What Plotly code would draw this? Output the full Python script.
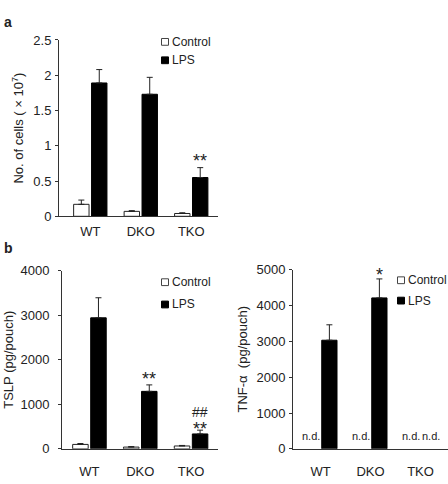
import plotly.graph_objects as go

# ---------------- data ----------------
genotypes = ["WT", "DKO", "TKO"]

cells_control = [0.17, 0.07, 0.04]
cells_control_err = [0.06, 0.01, 0.01]
cells_lps = [1.89, 1.73, 0.55]
cells_lps_err = [0.19, 0.24, 0.14]

tslp_control = [100, 40, 65]
tslp_control_err = [20, 10, 12]
tslp_lps = [2940, 1290, 335]
tslp_lps_err = [450, 145, 85]

tnf_control = [None, None, None]          # n.d.
tnf_lps = [3030, 4210, None]               # TKO n.d.
tnf_lps_err = [430, 530, 0]
tnf_nd_labels = [("WT", "Control"), ("DKO", "Control"), ("TKO", "Control"), ("TKO", "LPS")]

FONT = "Liberation Sans, Arial, sans-serif"
W, H = 448, 484

def px2x(p):
    return p / W

def px2y(p):
    return 1 - p / H

fig = go.Figure()

def add_pair(ctrl, ctrl_err, lps, lps_err, xa, ya):
    fig.add_trace(go.Bar(
        x=genotypes, y=ctrl, name="Control", xaxis=xa, yaxis=ya,
        marker=dict(color="white", line=dict(color="#222222", width=1)),
        error_y=dict(type="data", array=ctrl_err, arrayminus=[0] * 3, symmetric=False,
                     color="#222222", thickness=1, width=3) if ctrl_err else None,
        showlegend=False, offsetgroup="c"))
    fig.add_trace(go.Bar(
        x=genotypes, y=lps, name="LPS", xaxis=xa, yaxis=ya,
        marker=dict(color="black", line=dict(color="black", width=1)),
        error_y=dict(type="data", array=lps_err, arrayminus=[0] * 3, symmetric=False,
                     color="#222222", thickness=1, width=3),
        showlegend=False, offsetgroup="l"))

add_pair(cells_control, cells_control_err, cells_lps, cells_lps_err, "x", "y")
add_pair(tslp_control, tslp_control_err, tslp_lps, tslp_lps_err, "x2", "y2")
add_pair(tnf_control, None, tnf_lps, tnf_lps_err, "x3", "y3")

axis_line = dict(showline=True, linecolor="#333333", linewidth=1, showgrid=False,
                 zeroline=False)

xcommon = dict(axis_line, type="category", ticks="",
               tickfont=dict(family=FONT, size=13, color="#222222"))
ycommon = dict(axis_line, ticks="outside", ticklen=3, tickcolor="#333333",
               tickfont=dict(family=FONT, size=13, color="#222222"))

fig.update_layout(
    width=W, height=H, margin=dict(l=0, r=0, t=0, b=0),
    paper_bgcolor="white", plot_bgcolor="white",
    barmode="group", bargap=0.29, bargroupgap=0.14,
    font=dict(family=FONT, color="#222222"),
    xaxis=dict(xcommon, domain=[px2x(59), px2x(218)], range=[-0.62, 2.53], anchor="y",
               ticklabelstandoff=3),
    yaxis=dict(ycommon, domain=[px2y(216), px2y(34)], range=[0, 2.5], dtick=0.5, anchor="x",
               ticklabelstandoff=1,
               title=dict(text="No. of cells ( × 10<sup>7</sup>)", font=dict(size=13, family=FONT),
                          standoff=6)),
    xaxis2=dict(xcommon, domain=[px2x(62), px2x(218)], range=[-0.54, 2.53], anchor="y2",
                ticklabelstandoff=11),
    yaxis2=dict(ycommon, domain=[px2y(456), px2y(272)], range=[0, 4000], dtick=1000, anchor="x2",
                ticklabelstandoff=6,
                title=dict(text="TSLP (pg/pouch)", font=dict(size=13, family=FONT), standoff=3)),
    xaxis3=dict(xcommon, domain=[px2x(293), px2x(448)], range=[-0.55, 2.55], anchor="y3",
                ticklabelstandoff=11),
    yaxis3=dict(ycommon, domain=[px2y(456), px2y(271)], range=[0, 5000], dtick=1000, anchor="x3",
                ticklabelstandoff=1,
                title=dict(text="TNF-α  (pg/pouch)", font=dict(size=13, family=FONT), standoff=5)),
)

ann = []
# panel letters
ann.append(dict(text="<b>a</b>", x=px2x(2), y=px2y(15), xref="paper", yref="paper",
                xanchor="left", yanchor="middle", showarrow=False, font=dict(size=14, family=FONT)))
ann.append(dict(text="<b>b</b>", x=px2x(2), y=px2y(249), xref="paper", yref="paper",
                xanchor="left", yanchor="middle", showarrow=False, font=dict(size=14, family=FONT)))

LPS_OFF = 0.18
star_font = dict(size=18, family=FONT, color="#222222")
ann.append(dict(text="**", x=2 + LPS_OFF, y=0.78, xref="x", yref="y", showarrow=False,
                yanchor="middle", font=star_font))
ann.append(dict(text="**", x=1 + LPS_OFF, y=1560, xref="x2", yref="y2", showarrow=False,
                yanchor="middle", font=star_font))
ann.append(dict(text="**", x=2 + LPS_OFF, y=450, xref="x2", yref="y2", showarrow=False,
                yanchor="middle", font=star_font))
ann.append(dict(text="##", x=2 + LPS_OFF, y=820, xref="x2", yref="y2", showarrow=False,
                yanchor="middle", font=dict(size=14, family=FONT, color="#222222")))
ann.append(dict(text="*", x=1 + LPS_OFF, y=4850, xref="x3", yref="y3", showarrow=False,
                yanchor="middle", font=star_font))

# n.d. labels
for g, grp in tnf_nd_labels:
    idx = genotypes.index(g)
    off = -0.2 if grp == "Control" else 0.2
    ann.append(dict(text="n.d.", x=idx + off, y=360, xref="x3", yref="y3", showarrow=False,
                    yanchor="middle", font=dict(size=11, family=FONT, color="#222222")))

shapes = []
# legends: (box x px, control y px, lps y px)
for bx, cy, ly in [(165, 36, 55), (165, 284, 307), (401, 282, 303)]:
    shapes.append(dict(type="rect", xref="paper", yref="paper",
                       x0=px2x(bx - 3.5), x1=px2x(bx + 3.5), y0=px2y(cy + 3.5), y1=px2y(cy - 3.5),
                       fillcolor="white", line=dict(color="#444444", width=1)))
    shapes.append(dict(type="rect", xref="paper", yref="paper",
                       x0=px2x(bx - 3.5), x1=px2x(bx + 3.5), y0=px2y(ly + 3.5), y1=px2y(ly - 3.5),
                       fillcolor="black", line=dict(color="black", width=1)))
    ann.append(dict(text="Control", x=px2x(bx + 4.5), y=px2y(cy), xref="paper", yref="paper",
                    xanchor="left", yanchor="middle", showarrow=False,
                    font=dict(size=12, family=FONT, color="#222222")))
    ann.append(dict(text="LPS", x=px2x(bx + 4.5), y=px2y(ly), xref="paper", yref="paper",
                    xanchor="left", yanchor="middle", showarrow=False,
                    font=dict(size=12, family=FONT, color="#222222")))

fig.update_layout(annotations=ann, shapes=shapes)
fig.update_traces(cliponaxis=False)

fig.write_html("out.html")
